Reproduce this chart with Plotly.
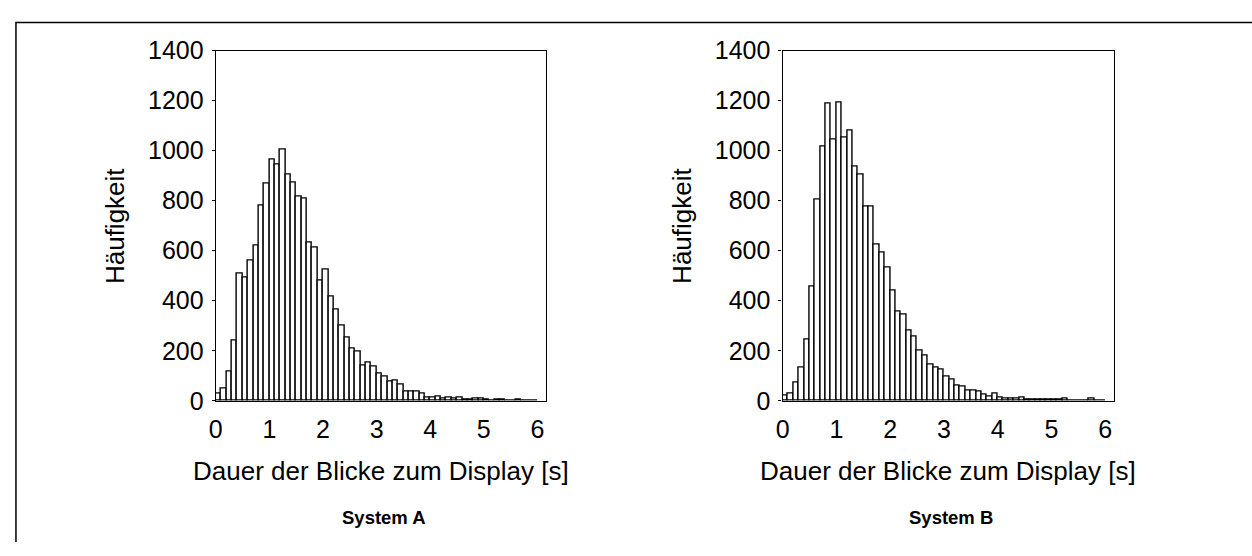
import plotly.graph_objects as go

# ---- data (counts per 0.1 s bin) ----
bin_width = 0.1
n_bins = 60
bin_centers = [round(bin_width * (i + 0.5), 3) for i in range(n_bins)]

counts_a = [28, 48, 118, 242, 507, 492, 560, 621, 782, 870,
            966, 946, 1004, 906, 874, 816, 810, 631, 612, 482,
            526, 416, 364, 301, 254, 207, 196, 142, 153, 135,
            109, 97, 76, 82, 63, 37, 37, 37, 28, 11,
            11, 18, 8, 13, 8, 13, 4, 4, 8, 8,
            4, 1, 4, 4, 1, 1, 4, 1, 0, 0]

counts_b = [19, 27, 72, 133, 243, 455, 806, 1015, 1189, 1044,
            1194, 1052, 1080, 936, 906, 775, 775, 626, 591, 534,
            440, 357, 345, 282, 256, 201, 181, 145, 132, 126,
            97, 86, 62, 56, 42, 42, 37, 25, 16, 27,
            11, 10, 10, 10, 11, 5, 5, 5, 5, 5,
            5, 3, 9, 2, 2, 2, 2, 9, 0, 0]

y_ticks = [0, 200, 400, 600, 800, 1000, 1200, 1400]
x_ticks = [0, 1, 2, 3, 4, 5, 6]
panel_titles = ["System A", "System B"]
x_title = "Dauer der Blicke zum Display [s]"
y_title = "Häufigkeit"

W, H = 1252, 556
FONT = "Liberation Sans, Arial, sans-serif"
TICK_SIZE = 25
TITLE_SIZE = 26

def px_x(p):
    return p / W

def px_y(p):
    return 1 - p / H

panels = [
    dict(left=210, right=542, counts=counts_a),
    dict(left=780, right=1113, counts=counts_b),
]
plot_top, plot_bottom = 38.5, 407.3

fig = go.Figure()
layout = dict(
    width=W, height=H, autosize=False,
    margin=dict(l=0, r=0, t=0, b=0),
    paper_bgcolor="white", plot_bgcolor="white",
    showlegend=False, bargap=0,
    font=dict(family=FONT, size=TICK_SIZE, color="black"),
)
annotations = []
for i, p in enumerate(panels):
    sfx = "" if i == 0 else str(i + 1)
    fig.add_trace(go.Bar(
        x=bin_centers, y=p["counts"], width=bin_width,
        marker=dict(color="white", line=dict(color="black", width=1.4)),
        xaxis="x" + sfx, yaxis="y" + sfx,
    ))
    layout["xaxis" + sfx] = dict(
        domain=[px_x(p["left"]), px_x(p["right"])],
        range=[0, 6.16], tickvals=x_ticks,
        showline=True, mirror=True, linecolor="black", linewidth=1.4,
        showgrid=False, zeroline=False,
        ticks="", ticklabelstandoff=6,
        tickfont=dict(size=TICK_SIZE, family=FONT),
        anchor="y" + sfx, fixedrange=True,
    )
    layout["yaxis" + sfx] = dict(
        domain=[px_y(plot_bottom), px_y(plot_top)],
        range=[0, 1400], tickvals=y_ticks,
        showline=True, mirror=True, linecolor="black", linewidth=1.4,
        showgrid=False, zeroline=False,
        ticks="outside", ticklen=3, tickwidth=1, tickcolor="black",
        ticklabelstandoff=3,
        tickfont=dict(size=TICK_SIZE, family=FONT),
        anchor="x" + sfx, fixedrange=True,
    )
    cx = (p["left"] + p["right"]) / 2
    annotations.append(dict(
        text=x_title, xref="paper", yref="paper",
        x=px_x(cx), y=px_y(481), xanchor="center", yanchor="middle",
        showarrow=False, font=dict(size=TITLE_SIZE, family=FONT),
    ))
    annotations.append(dict(
        text=y_title, xref="paper", yref="paper", textangle=-90,
        x=px_x(p["left"] - 102), y=px_y((plot_top + plot_bottom) / 2),
        xanchor="center", yanchor="middle",
        showarrow=False, font=dict(size=TITLE_SIZE, family=FONT),
    ))
    annotations.append(dict(
        text="<b>" + panel_titles[i] + "</b>", xref="paper", yref="paper",
        x=px_x(cx + 3), y=px_y(530), xanchor="center", yanchor="middle",
        showarrow=False, font=dict(size=18.5, family=FONT),
    ))

layout["annotations"] = annotations
layout["shapes"] = [dict(
    type="path", xref="paper", yref="paper",
    path=f"M {px_x(9)},0 L {px_x(9)},{px_y(9)} L 1,{px_y(9)}",
    line=dict(color="black", width=1.5),
)]
fig.update_layout(**layout)
fig.write_html("out.html")
